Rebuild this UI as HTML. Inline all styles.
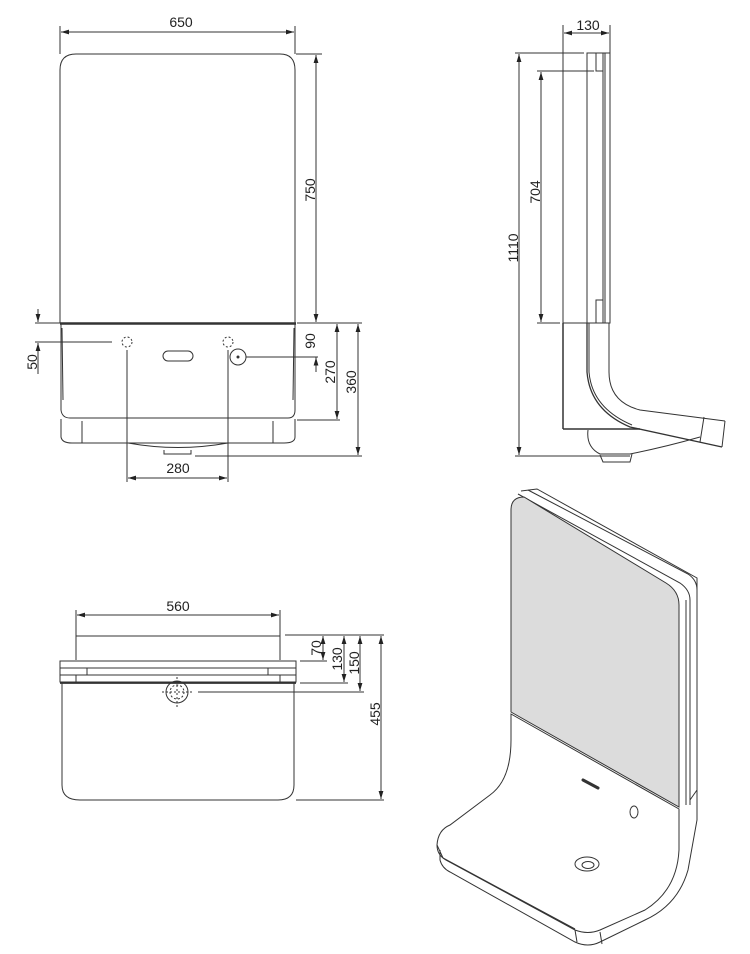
<!DOCTYPE html>
<html><head><meta charset="utf-8"><style>
html,body{margin:0;padding:0;background:#fff}
svg{display:block}
text{font-family:"Liberation Sans","DejaVu Sans",sans-serif;font-size:14px;fill:#222}
</style></head><body>
<svg width="750" height="954" viewBox="0 0 750 954" xmlns="http://www.w3.org/2000/svg">
<defs>
<marker id="a" viewBox="0 0 10 6" refX="10" refY="3" markerWidth="8" markerHeight="5" orient="auto-start-reverse"><path d="M0,0L10,3L0,6z" fill="#222"/></marker>
</defs>
<g fill="none" stroke="#333" stroke-width="1">
<!-- FRONT VIEW -->
<path d="M60,323V70Q60,54 76,54H280Q295,54 295,70V323"/>
<line x1="60" y1="323.5" x2="296" y2="323.5" stroke-width="2.5"/>
<path d="M61,324V410Q62,418 70,418H288Q295,418 295,410V324"/>
<path d="M62,328L63,400M294,328L293,400"/>
<path d="M61,419V437Q62,443 72,443H284Q295,443 295,437V419"/>
<line x1="82" y1="421" x2="82" y2="443"/><line x1="273" y1="421" x2="273" y2="443"/>
<path d="M128,443Q178,452 228,443"/><path d="M164,450V454H191V450"/>
<rect x="163" y="351" width="30" height="10" rx="5"/>
<circle cx="238" cy="357" r="8"/><circle cx="238" cy="357" r="1" fill="#333"/>
<circle cx="127" cy="342" r="5" stroke-dasharray="2,2"/>
<circle cx="228" cy="342" r="5" stroke-dasharray="2,2"/>
<!-- dims front -->
<line x1="60" y1="26" x2="60" y2="54"/><line x1="295" y1="26" x2="295" y2="54"/>
<line x1="61" y1="32" x2="294" y2="32" marker-start="url(#a)" marker-end="url(#a)"/>
<line x1="296" y1="54" x2="322" y2="54"/>
<line x1="316" y1="55" x2="316" y2="322" marker-start="url(#a)" marker-end="url(#a)"/>
<line x1="316" y1="357" x2="316" y2="372"/>
<line x1="316" y1="372" x2="316" y2="357.5" marker-end="url(#a)"/>
<line x1="246" y1="357" x2="318" y2="357"/>
<line x1="297" y1="323" x2="362" y2="323"/>
<line x1="297" y1="420" x2="340" y2="420"/>
<line x1="195" y1="456" x2="362" y2="456"/>
<line x1="337" y1="324" x2="337" y2="419" marker-start="url(#a)" marker-end="url(#a)"/>
<line x1="358" y1="324" x2="358" y2="455" marker-start="url(#a)" marker-end="url(#a)"/>
<line x1="35" y1="323" x2="60" y2="323"/><line x1="35" y1="342" x2="112" y2="342"/>
<line x1="38" y1="309" x2="38" y2="322" marker-end="url(#a)"/>
<line x1="38" y1="374" x2="38" y2="343" marker-end="url(#a)"/>
<line x1="127" y1="350" x2="127" y2="482"/><line x1="228" y1="350" x2="228" y2="482"/>
<line x1="128" y1="478" x2="227" y2="478" marker-start="url(#a)" marker-end="url(#a)"/>
<!-- SIDE VIEW -->
<line x1="563" y1="25" x2="563" y2="323"/>
<line x1="610" y1="25" x2="610" y2="53"/>
<line x1="564" y1="33" x2="609" y2="33" marker-start="url(#a)" marker-end="url(#a)"/>
<rect x="587" y="53" width="23" height="270"/>
<line x1="603" y1="53" x2="603" y2="323"/><line x1="605" y1="53" x2="605" y2="323"/>
<path d="M596,53V71H603M596,323V300H603"/>
<line x1="515" y1="53" x2="584" y2="53"/><line x1="537" y1="71" x2="594" y2="71"/>
<line x1="537" y1="323" x2="560" y2="323"/>
<line x1="519" y1="54" x2="519" y2="455" marker-start="url(#a)" marker-end="url(#a)"/>
<line x1="541" y1="72" x2="541" y2="322" marker-start="url(#a)" marker-end="url(#a)"/>
<line x1="515" y1="456" x2="630" y2="456"/>
<path d="M563,323H609V372Q609,402 640,410L725,421"/>
<line x1="563" y1="323" x2="563" y2="429" stroke-width="1.5"/>
<path d="M563,429H640" stroke-width="1.5"/>
<path d="M587,323V372Q590,410 630,427L722,447" stroke-width="1.3"/>
<path d="M589,323V372Q592,408 632,425"/>
<path d="M704,417L700,442M725,421L722,447"/>
<path d="M588,430Q586,447 600,454H630Q665,447 700,437"/>
<path d="M600,455L603,462H630L632,454"/>
<!-- PLAN VIEW -->
<line x1="76" y1="610" x2="76" y2="660"/><line x1="280" y1="610" x2="280" y2="660"/>
<line x1="77" y1="615" x2="279" y2="615" marker-start="url(#a)" marker-end="url(#a)"/>
<path d="M76,660V636H280V660"/>
<rect x="60" y="661" width="236" height="21"/>
<path d="M60,668H296M60,675H296M87,668V675M268,668V675"/>
<line x1="76" y1="675" x2="76" y2="682"/><line x1="280" y1="675" x2="280" y2="682"/>
<path d="M62,683V785Q62,800 80,800H278Q294,800 294,785V683"/>
<line x1="60" y1="683" x2="296" y2="683" stroke-width="1.8"/>
<circle cx="177" cy="692" r="11"/><circle cx="177" cy="692" r="7" stroke-dasharray="2,2"/>
<path d="M177,677V707M162,692H192" stroke-dasharray="2,2"/>
<line x1="285" y1="635" x2="384" y2="635"/>
<line x1="300" y1="661" x2="327" y2="661"/>
<line x1="300" y1="683" x2="348" y2="683"/>
<line x1="198" y1="692" x2="364" y2="692"/>
<line x1="296" y1="800" x2="384" y2="800"/>
<line x1="323" y1="636" x2="323" y2="660" marker-start="url(#a)" marker-end="url(#a)"/>
<line x1="344" y1="636" x2="344" y2="682" marker-start="url(#a)" marker-end="url(#a)"/>
<line x1="360" y1="636" x2="360" y2="691" marker-start="url(#a)" marker-end="url(#a)"/>
<line x1="381" y1="636" x2="381" y2="799" marker-start="url(#a)" marker-end="url(#a)"/>
<!-- ISO -->
<path d="M521,491L537,489L697,578V790L690,800" fill="#fff"/>
<path d="M528,490L688,574Q697,580 697,590" />
<path d="M518,494L680,583Q690,590 690,600V805"/>
<path d="M511,712V510Q511,497 524,497L666,583Q679,591 679,605V807Z" fill="#dcdcdc"/>
<path d="M686,600V805"/>
<path d="M511,714L679,809V850Q677,890 645,910L600,930Q588,935 575,930L446,860Q437,855 437,845Q438,830 450,825L490,795Q511,780 511,740Z" fill="#fff"/>
<path d="M440,850L440,860Q442,868 450,872L575,942Q588,948 600,942L645,920Q678,905 688,870L697,820V790"/>
<path d="M437,845L443,858L575,929M600,932L602,944M575,930L577,942"/>
<path d="M583,780L598,788" stroke-width="3" stroke-linecap="round"/>
<ellipse cx="634" cy="812" rx="4" ry="6"/>
<ellipse cx="587" cy="864" rx="12" ry="7"/><ellipse cx="588" cy="865" rx="6" ry="3.5"/>
</g>
<g>
<text x="181" y="27" text-anchor="middle">650</text>
<text transform="translate(315,190) rotate(-90)" text-anchor="middle">750</text>
<text transform="translate(315,341) rotate(-90)" text-anchor="middle">90</text>
<text transform="translate(335,372) rotate(-90)" text-anchor="middle">270</text>
<text transform="translate(356,382) rotate(-90)" text-anchor="middle">360</text>
<text transform="translate(37,362) rotate(-90)" text-anchor="middle">50</text>
<text x="178" y="473" text-anchor="middle">280</text>
<text x="588" y="30" text-anchor="middle">130</text>
<text transform="translate(518,248) rotate(-90)" text-anchor="middle">1110</text>
<text transform="translate(540,192) rotate(-90)" text-anchor="middle">704</text>
<text x="178" y="611" text-anchor="middle">560</text>
<text transform="translate(321,648) rotate(-90)" text-anchor="middle">70</text>
<text transform="translate(342,659) rotate(-90)" text-anchor="middle">130</text>
<text transform="translate(359,663) rotate(-90)" text-anchor="middle">150</text>
<text transform="translate(380,714) rotate(-90)" text-anchor="middle">455</text>
</g>
</svg>
</body></html>
